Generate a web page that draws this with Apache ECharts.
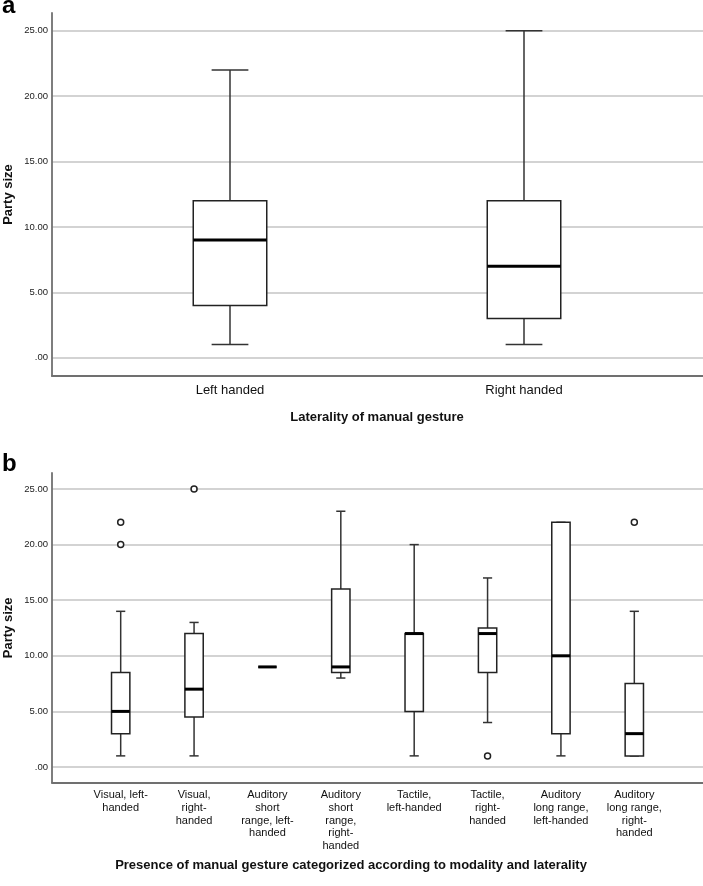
<!DOCTYPE html>
<html>
<head>
<meta charset="utf-8">
<script src="https://cdn.jsdelivr.net/npm/echarts@6/dist/echarts.min.js"></script>
<style>html,body{margin:0;padding:0;background:#fff}#c{width:703px;height:886px}</style>
</head>
<body>
<div id="c"></div>
<script>
// Panel a data
const catsA = ['Left handed', 'Right handed'];
const lowA  = [1, 1];
const q1A   = [4, 3];
const medA  = [9, 7];
const q3A   = [12, 12];
const highA = [22, 25];

// Panel b data
const catsB = [
  'Visual, left-\nhanded',
  'Visual,\nright-\nhanded',
  'Auditory\nshort\nrange, left-\nhanded',
  'Auditory\nshort\nrange,\nright-\nhanded',
  'Tactile,\nleft-handed',
  'Tactile,\nright-\nhanded',
  'Auditory\nlong range,\nleft-handed',
  'Auditory\nlong range,\nright-\nhanded'
];
const lowB  = [1, 1, 9, 8, 1, 4, 1, 1];
const q1B   = [3, 4.5, 9, 8.5, 5, 8.5, 3, 1];
const medB  = [5, 7, 9, 9, 12, 12, 10, 3];
const q3B   = [8.5, 12, 9, 16, 12, 12.5, 22, 7.5];
const highB = [14, 13, 9, 23, 20, 17, 22, 14];
const outCatB = [0, 0, 1, 5, 7];
const outValB = [22, 20, 25, 1, 22];

const yTicks = [0, 5, 10, 15, 20, 25];

const FONT = 'Liberation Sans, Arial, sans-serif';

function boxData(low, q1, med, q3, high) {
  return low.map((v, i) => [i, low[i], q1[i], med[i], q3[i], high[i]]);
}

function renderBox(params, api) {
  const i = api.value(0);
  const x = api.coord([i, 0])[0];
  const band = api.size([1, 0])[0];
  const bw = band * 0.25;
  const cap = bw / 2;
  const yLow = api.coord([i, api.value(1)])[1];
  const yQ1 = api.coord([i, api.value(2)])[1];
  const yMed = api.coord([i, api.value(3)])[1];
  const yQ3 = api.coord([i, api.value(4)])[1];
  const yHigh = api.coord([i, api.value(5)])[1];
  const wStyle = { stroke: '#333', lineWidth: 1.5 };
  return {
    type: 'group',
    children: [
      { type: 'line', shape: { x1: x, y1: yQ1, x2: x, y2: yLow }, style: wStyle },
      { type: 'line', shape: { x1: x, y1: yQ3, x2: x, y2: yHigh }, style: wStyle },
      { type: 'line', shape: { x1: x - cap / 2, y1: yLow, x2: x + cap / 2, y2: yLow }, style: wStyle },
      { type: 'line', shape: { x1: x - cap / 2, y1: yHigh, x2: x + cap / 2, y2: yHigh }, style: wStyle },
      { type: 'rect', shape: { x: x - bw / 2, y: yQ3, width: bw, height: yQ1 - yQ3 },
        style: { fill: '#fff', stroke: '#222', lineWidth: 1.5 } },
      { type: 'line', shape: { x1: x - bw / 2, y1: yMed, x2: x + bw / 2, y2: yMed },
        style: { stroke: '#000', lineWidth: 3 } }
    ]
  };
}

const tickFmt = v => (v === 0 ? '.00' : v.toFixed(2));

function frameAxes(gridIndex) {
  return {
    x: { type: 'value', gridIndex, min: 0, max: 1,
         axisLine: { show: true, onZero: false, lineStyle: { color: '#707070', width: 1.8 } },
         axisTick: { show: false }, axisLabel: { show: false }, splitLine: { show: false } },
    y: { type: 'value', gridIndex, min: 0, max: 1,
         name: 'Party size', nameLocation: 'middle', nameGap: 37,
         nameTextStyle: { fontFamily: FONT, fontSize: 13, fontWeight: 'bold', color: '#111' },
         axisLine: { show: true, onZero: false, lineStyle: { color: '#707070', width: 1.8 } },
         axisTick: { show: false }, axisLabel: { show: false }, splitLine: { show: false } }
  };
}

function valueAxes(gridIndex) {
  return {
    x: { type: 'value', gridIndex, show: false, min: 0, max: 1 },
    y: { type: 'value', gridIndex, min: yTicks[0], max: yTicks[yTicks.length - 1], interval: 5,
         axisLine: { show: false }, axisTick: { show: false },
         axisLabel: { formatter: tickFmt, margin: 4, fontFamily: FONT, fontSize: 9.5, color: '#222' },
         splitLine: { show: true, lineStyle: { color: '#c4c4c4', width: 1.5 } } }
  };
}

const fA = frameAxes(0), vA = valueAxes(1), fB = frameAxes(3), vB = valueAxes(4);

const G = { outerBoundsMode: 'none', containLabel: false };

const option = {
  animation: false,
  backgroundColor: '#fff',
  grid: [
    Object.assign({ left: 52, right: 0, top: 13, height: 363 }, G),
    Object.assign({ left: 52, right: 0, top: 30.7, height: 327 }, G),
    Object.assign({ left: 83, width: 588, top: 30.7, height: 327 }, G),
    Object.assign({ left: 52, right: 0, top: 473, height: 309.7 }, G),
    Object.assign({ left: 52, right: 0, top: 489, height: 278 }, G),
    Object.assign({ left: 84, width: 587, top: 489, height: 278 }, G)
  ],
  xAxis: [
    fA.x, vA.x,
    { type: 'category', gridIndex: 2, data: catsA,
      axisLine: { show: false }, axisTick: { show: false },
      axisLabel: { interval: 0, margin: 26, fontFamily: FONT, fontSize: 13, color: '#111' },
      name: 'Laterality of manual gesture', nameLocation: 'middle', nameGap: 53,
      nameTextStyle: { fontFamily: FONT, fontSize: 13, fontWeight: 'bold', color: '#111' } },
    fB.x, vB.x,
    { type: 'category', gridIndex: 5, data: catsB,
      axisLine: { show: false }, axisTick: { show: false },
      axisLabel: { interval: 0, margin: 22, fontFamily: FONT, fontSize: 11, lineHeight: 12.7, color: '#111' },
      name: 'Presence of manual gesture categorized according to modality and laterality',
      nameLocation: 'middle', nameGap: 92,
      nameTextStyle: { fontFamily: FONT, fontSize: 13, fontWeight: 'bold', color: '#111', padding: [0, 53, 0, 0] } }
  ],
  yAxis: [
    fA.y, vA.y,
    { type: 'value', gridIndex: 2, min: 0, max: 25, show: false },
    fB.y, vB.y,
    { type: 'value', gridIndex: 5, min: 0, max: 25, show: false }
  ],
  graphic: [
    { type: 'text', left: 2, top: -6, style: { text: 'a', font: 'bold 24px ' + FONT, fill: '#000' } },
    { type: 'text', left: 2, top: 452, style: { text: 'b', font: 'bold 24px ' + FONT, fill: '#000' } }
  ],
  series: [
    { type: 'custom', xAxisIndex: 2, yAxisIndex: 2, renderItem: renderBox,
      encode: { x: 0, y: [1, 2, 3, 4, 5] },
      data: boxData(lowA, q1A, medA, q3A, highA), z: 5 },
    { type: 'custom', xAxisIndex: 5, yAxisIndex: 5, renderItem: renderBox,
      encode: { x: 0, y: [1, 2, 3, 4, 5] },
      data: boxData(lowB, q1B, medB, q3B, highB), z: 5 },
    { type: 'scatter', xAxisIndex: 5, yAxisIndex: 5, symbol: 'circle', symbolSize: 6,
      itemStyle: { color: '#fff', borderColor: '#222', borderWidth: 1.5, opacity: 1 },
      data: outCatB.map((c, i) => [c, outValB[i]]), z: 6 }
  ]
};

const chart = echarts.init(document.getElementById('c'), null, { renderer: 'canvas' });
chart.setOption(option);
</script>
</body>
</html>
